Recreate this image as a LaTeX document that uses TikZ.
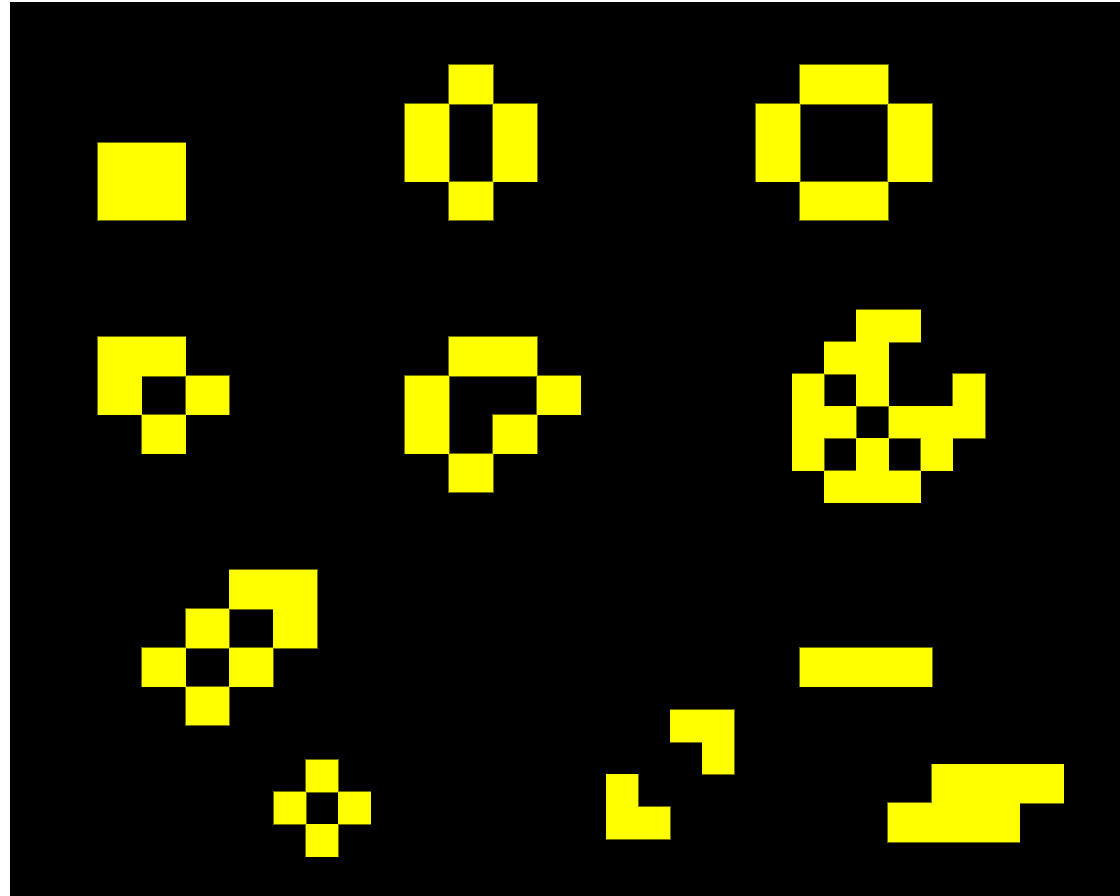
\documentclass[tikz,border=0pt]{standalone}
\definecolor{lifeyellow}{RGB}{255,255,0}
\definecolor{edgecol}{RGB}{110,110,0}
\tikzset{
  edgeline/.style={draw=edgecol, line width=1.6pt, line join=miter},
  cellfill/.style={fill=lifeyellow},
}
% #1 x0, #2 y0, #3 cell width, #4 cell height, #5 list of col/row
\newcommand\lifecells[5]{%
  \foreach \c/\r in {#5}{\draw[edgeline] ({#1+\c*#3},{#2+\r*#4}) rectangle ++(#3,#4);}%
  \foreach \c/\r in {#5}{\fill[cellfill] ({#1+\c*#3},{#2+\r*#4}) rectangle ++(#3,#4);}%
}
\begin{document}
\begin{tikzpicture}[x=1pt,y=-1pt]
\useasboundingbox (0,0) rectangle (1120,896);
\fill[white] (0,0) rectangle (1120,896);
\fill[black] (10,2) rectangle (1120,896);
% big grid: x0=9.9, y0=65, w=43.9, h=38.85
\def\BX{9.9}\def\BY{65}\def\BW{43.9}\def\BH{38.85}
% block
\lifecells{\BX}{\BY}{\BW}{\BH}{2/2,3/2,2/3,3/3}
% beehive
\lifecells{\BX}{\BY}{\BW}{\BH}{10/0,9/1,11/1,9/2,11/2,10/3}
% pond
\lifecells{\BX}{\BY}{\BW}{\BH}{18/0,19/0,17/1,20/1,17/2,20/2,18/3,19/3}
% boat
\lifecells{\BX}{\BY}{\BW}{\BH}{2/7,3/7,2/8,4/8,3/9}
% loaf-like
\lifecells{\BX}{\BY}{\BW}{\BH}{10/7,11/7,9/8,12/8,9/9,11/9,10/10}
% diagonal shape
\lifecells{\BX}{\BY}{\BW}{\BH}{5/13,6/13,4/14,6/14,3/15,5/15,4/16}
% blinker
\lifecells{\BX}{\BY}{\BW}{\BH}{18/15,19/15,20/15}
% toad
\lifecells{\BX}{\BY}{\BW}{\BH}{21/18,22/18,23/18,20/19,21/19,22/19}
% small-cell patterns
\lifecells{792.3}{310}{32.07}{32.1}{2/0,3/0,1/1,2/1,0/2,2/2,5/2,0/3,1/3,3/3,4/3,5/3,0/4,2/4,4/4,1/5,2/5,3/5}
\lifecells{274}{760}{32.2}{32.2}{1/0,0/1,2/1,1/2}
\lifecells{606.3}{710}{32}{32.2}{2/0,3/0,3/1,0/2,0/3,1/3}
\end{tikzpicture}
\end{document}
